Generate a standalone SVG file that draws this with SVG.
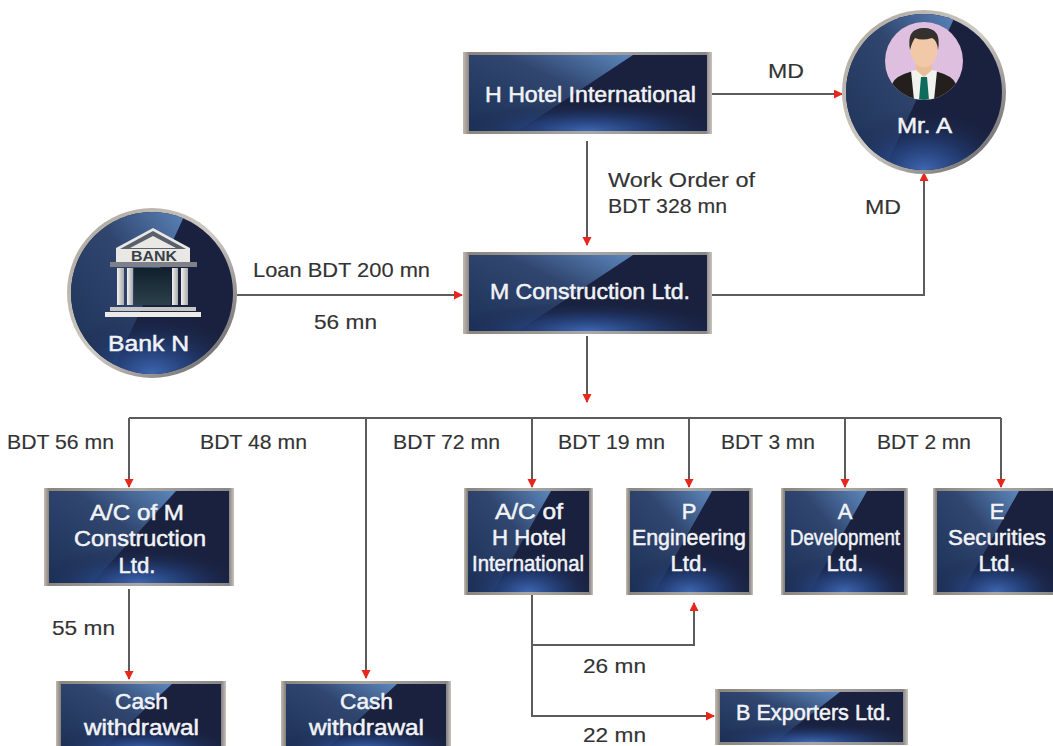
<svg xmlns="http://www.w3.org/2000/svg" width="1053" height="746" viewBox="0 0 1053 746">
<style>
text{font-family:"Liberation Sans",Arial,sans-serif}
.l{font-size:21px;fill:#333;stroke:#333;stroke-width:.15px}
.n{font-size:22px;fill:#f2f3f6;text-anchor:middle;stroke:#f2f3f6;stroke-width:.5px}
.frame{fill:url(#fr);filter:url(#soft)}
.base{fill:#19213f}
.glow{fill:url(#gl)}
.sheen{fill:url(#sh)}
.c{fill:none;stroke:#5c5c5c;stroke-width:2}
.ca{marker-end:url(#a)}
</style>
<defs>
<filter id="soft" x="-5%" y="-5%" width="110%" height="110%"><feGaussianBlur stdDeviation=".5"/></filter>
<linearGradient id="fr" x1="0" x2="1" y1="0" y2="0"><stop offset="0" stop-color="#c2bcb4"/><stop offset=".025" stop-color="#8b857e"/><stop offset=".5" stop-color="#aaa8a6"/><stop offset=".975" stop-color="#8a8887"/><stop offset="1" stop-color="#c8c4be"/></linearGradient>
<linearGradient id="sh" x1="0" x2="1" y1="1" y2="0"><stop offset="0" stop-color="#1c3157"/><stop offset=".6" stop-color="#30466f"/><stop offset="1" stop-color="#5c87bd"/></linearGradient>
<radialGradient id="gl" cx=".5" cy="1" r=".6" gradientTransform="translate(0 .35) scale(1 .65)"><stop offset="0" stop-color="#3f67b3" stop-opacity="1"/><stop offset=".45" stop-color="#25437f" stop-opacity=".75"/><stop offset="1" stop-color="#19213f" stop-opacity="0"/></radialGradient>
<linearGradient id="ring" x1="0" x2="1" y1="0" y2="1"><stop offset="0" stop-color="#a8a29a"/><stop offset=".5" stop-color="#cfcbc5"/><stop offset="1" stop-color="#57565a"/></linearGradient>
<linearGradient id="door" x1="0" x2="0" y1="0" y2="1"><stop offset="0" stop-color="#10202c"/><stop offset="1" stop-color="#2b414c"/></linearGradient>
<linearGradient id="col" x1="0" x2="1" y1="0" y2="0"><stop offset="0" stop-color="#f2f2f0"/><stop offset="1" stop-color="#a9a9a7"/></linearGradient>
<marker id="a" markerUnits="userSpaceOnUse" markerWidth="10" markerHeight="10" refX="8" refY="4.5" orient="auto"><path d="M0 0L9 4.500L0 9Z" fill="#e8261c"/></marker>
<clipPath id="ppl"><circle cx="924" cy="61" r="39"/></clipPath>
<clipPath id="cA"><circle cx="924" cy="92" r="78"/></clipPath>
<clipPath id="cB"><circle cx="152" cy="293" r="81"/></clipPath>
</defs>
<rect width="1053" height="746" fill="#fff"/>

<g id="connectors">
<path class="c ca" d="M712 94H842"/>
<path class="c ca" d="M587 141V245"/>
<path class="c ca" d="M237 295H462"/>
<path class="c ca" d="M712 295H924V173"/>
<path class="c ca" d="M587 336V402"/>
<path class="c" d="M129 418H1001"/>
<path class="c ca" d="M129 418V487"/>
<path class="c ca" d="M366 418V678"/>
<path class="c ca" d="M532 418V487"/>
<path class="c ca" d="M689 418V487"/>
<path class="c ca" d="M845 418V487"/>
<path class="c ca" d="M1001 418V487"/>
<path class="c ca" d="M129 589V679"/>
<path class="c ca" d="M532 595V645H694V603"/>
<path class="c ca" d="M532 645V716H714"/>
</g>

<g id="h-hotel">
<rect class="frame" x="463" y="52" width="249" height="82"/><rect class="base" x="469" y="55" width="238" height="76"/>
<path class="sheen" d="M469 55H633L518 131H469Z"/><rect class="glow" x="469" y="55" width="238" height="76"/>
<text class="n" x="590.500" y="102" textLength="211" lengthAdjust="spacingAndGlyphs">H Hotel International</text>
</g>
<g id="m-construction">
<rect class="frame" x="463" y="252" width="249" height="82"/><rect class="base" x="469" y="255" width="238" height="76"/>
<path class="sheen" d="M469 255H633L518 331H469Z"/><rect class="glow" x="469" y="255" width="238" height="76"/>
<text class="n" x="590" y="299" textLength="200" lengthAdjust="spacingAndGlyphs">M Construction Ltd.</text>
</g>
<g id="ac-m">
<rect class="frame" x="44" y="488" width="190" height="98"/><rect class="base" x="49" y="491" width="180" height="92"/>
<path class="sheen" d="M49 491H176L92 583H49Z"/><rect class="glow" x="49" y="491" width="180" height="92"/>
<text class="n" x="137" y="520" textLength="94" lengthAdjust="spacingAndGlyphs">A/C of M</text><text class="n" x="140" y="546" textLength="132" lengthAdjust="spacingAndGlyphs">Construction</text><text class="n" x="137" y="573" textLength="37" lengthAdjust="spacingAndGlyphs">Ltd.</text>
</g>
<g id="ac-h">
<rect class="frame" x="464" y="488" width="129" height="107"/><rect class="base" x="468" y="491" width="121" height="101"/>
<path class="sheen" d="M468 491H551L493 592H468Z"/><rect class="glow" x="468" y="491" width="121" height="101"/>
<text class="n" x="529" y="519" textLength="68" lengthAdjust="spacingAndGlyphs">A/C of</text><text class="n" x="529" y="545" textLength="74" lengthAdjust="spacingAndGlyphs">H Hotel</text><text class="n" x="528" y="571" textLength="112" lengthAdjust="spacingAndGlyphs">International</text>
</g>
<g id="p-eng">
<rect class="frame" x="626" y="488" width="127" height="107"/><rect class="base" x="630" y="491" width="119" height="101"/>
<path class="sheen" d="M630 491H712L655 592H630Z"/><rect class="glow" x="630" y="491" width="119" height="101"/>
<text class="n" x="689" y="519">P</text><text class="n" x="689" y="545" textLength="114" lengthAdjust="spacingAndGlyphs">Engineering</text><text class="n" x="689" y="571" textLength="37" lengthAdjust="spacingAndGlyphs">Ltd.</text>
</g>
<g id="a-dev">
<rect class="frame" x="781" y="488" width="127" height="107"/><rect class="base" x="785" y="491" width="119" height="101"/>
<path class="sheen" d="M785 491H867L810 592H785Z"/><rect class="glow" x="785" y="491" width="119" height="101"/>
<text class="n" x="845" y="519">A</text><text class="n" x="845" y="545" textLength="110" lengthAdjust="spacingAndGlyphs">Development</text><text class="n" x="845" y="571" textLength="37" lengthAdjust="spacingAndGlyphs">Ltd.</text>
</g>
<g id="e-sec">
<rect class="frame" x="933" y="488" width="127" height="107"/><rect class="base" x="937" y="491" width="119" height="101"/>
<path class="sheen" d="M937 491H1019L962 592H937Z"/><rect class="glow" x="937" y="491" width="119" height="101"/>
<text class="n" x="997" y="519">E</text><text class="n" x="997" y="545" textLength="98" lengthAdjust="spacingAndGlyphs">Securities</text><text class="n" x="997" y="571" textLength="37" lengthAdjust="spacingAndGlyphs">Ltd.</text>
</g>
<g id="cash-1">
<rect class="frame" x="56" y="681" width="170" height="70"/><rect class="base" x="61" y="684" width="160" height="66"/>
<path class="sheen" d="M61 684H172L101 750H61Z"/><rect class="glow" x="61" y="684" width="160" height="66"/>
<text class="n" x="141.500" y="709" textLength="53" lengthAdjust="spacingAndGlyphs">Cash</text><text class="n" x="141.500" y="735" textLength="115" lengthAdjust="spacingAndGlyphs">withdrawal</text>
</g>
<g id="cash-2">
<rect class="frame" x="281" y="681" width="170" height="70"/><rect class="base" x="286" y="684" width="160" height="66"/>
<path class="sheen" d="M286 684H397L326 750H286Z"/><rect class="glow" x="286" y="684" width="160" height="66"/>
<text class="n" x="366.500" y="709" textLength="53" lengthAdjust="spacingAndGlyphs">Cash</text><text class="n" x="366.500" y="735" textLength="115" lengthAdjust="spacingAndGlyphs">withdrawal</text>
</g>
<g id="b-exporters">
<rect class="frame" x="715" y="689" width="193" height="56"/><rect class="base" x="720" y="692" width="183" height="50"/>
<path class="sheen" d="M720 692H840L775 742H720Z"/><rect class="glow" x="720" y="692" width="183" height="50"/>
<text class="n" x="813.500" y="720" textLength="155" lengthAdjust="spacingAndGlyphs">B Exporters Ltd.</text>
</g>

<g id="mr-a">
<circle cx="924" cy="92" r="82" fill="url(#ring)" filter="url(#soft)"/><circle cx="924" cy="92" r="78" class="base"/>
<path class="sheen" clip-path="url(#cA)" d="M842 10H958L884 170H842Z"/>
<circle class="glow" cx="924" cy="92" r="78"/>
<circle cx="924" cy="61" r="39" fill="#dfbfdf"/>
<g clip-path="url(#ppl)">
<path d="M892 100V84Q895 76 910 72L924 68L938 72Q953 76 956 84V100Z" fill="#231f1d"/>
<path d="M911 71L924 68L937 71L934 100H914Z" fill="#f1f1ee"/>
<path d="M921 77H927L929 100H919Z" fill="#0f6b5c"/>
<path d="M916 60H932V70L924 77L916 70Z" fill="#e8bd98"/>
<ellipse cx="924" cy="49" rx="13.500" ry="18.500" fill="#f2c9a8"/>
<path d="M910 50Q906 28 924 28Q942 28 938 50Q937 40 932 38Q922 41 915 38Q912 42 910 50Z" fill="#33302e"/>
</g>
<text class="n" x="924.500" y="133" textLength="55" lengthAdjust="spacingAndGlyphs">Mr. A</text>
</g>

<g id="bank-n">
<circle cx="152" cy="293" r="85" fill="url(#ring)" filter="url(#soft)"/><circle cx="152" cy="293" r="81" class="base"/>
<path class="sheen" clip-path="url(#cB)" d="M67 208H188L112 372H67Z"/>
<circle class="glow" cx="152" cy="293" r="81"/>
<path d="M153 228L116 248V263H190V248Z" fill="#e9e8e4"/>
<path d="M153 231L120 249H186Z" fill="#59606b"/>
<path d="M153 236L130 248H176Z" fill="#e9e8e4"/>
<text x="154" y="261" text-anchor="middle" textLength="46" lengthAdjust="spacingAndGlyphs" style="font-size:14px;font-weight:700;fill:#3a4048">BANK</text>
<rect x="110" y="262" width="87" height="5" fill="#7e8288"/>
<rect x="117" y="268" width="7" height="37" fill="url(#col)"/><rect x="127" y="268" width="6" height="37" fill="url(#col)"/>
<rect x="172" y="268" width="6" height="37" fill="url(#col)"/><rect x="181" y="268" width="7" height="37" fill="url(#col)"/>
<rect x="134" y="268" width="37" height="37" fill="url(#door)"/>
<rect x="110" y="307" width="86" height="4" fill="#c6c6c4"/>
<rect x="105" y="312" width="96" height="5" fill="#ecebe8"/>
<text class="n" x="148.500" y="351" textLength="81" lengthAdjust="spacingAndGlyphs">Bank N</text>
</g>

<g id="labels">
<text class="l" x="768" y="78" textLength="36" lengthAdjust="spacingAndGlyphs">MD</text>
<text class="l" x="608" y="187" textLength="147" lengthAdjust="spacingAndGlyphs">Work Order of</text>
<text class="l" x="608" y="213" textLength="119" lengthAdjust="spacingAndGlyphs">BDT 328 mn</text>
<text class="l" x="865" y="214" textLength="36" lengthAdjust="spacingAndGlyphs">MD</text>
<text class="l" x="253" y="277" textLength="177" lengthAdjust="spacingAndGlyphs">Loan BDT 200 mn</text>
<text class="l" x="314" y="329" textLength="63" lengthAdjust="spacingAndGlyphs">56 mn</text>
<text class="l" x="7" y="449" textLength="107" lengthAdjust="spacingAndGlyphs">BDT 56 mn</text>
<text class="l" x="200" y="449" textLength="107" lengthAdjust="spacingAndGlyphs">BDT 48 mn</text>
<text class="l" x="393" y="449" textLength="107" lengthAdjust="spacingAndGlyphs">BDT 72 mn</text>
<text class="l" x="558" y="449" textLength="107" lengthAdjust="spacingAndGlyphs">BDT 19 mn</text>
<text class="l" x="721" y="449" textLength="94" lengthAdjust="spacingAndGlyphs">BDT 3 mn</text>
<text class="l" x="877" y="449" textLength="94" lengthAdjust="spacingAndGlyphs">BDT 2 mn</text>
<text class="l" x="52" y="635" textLength="63" lengthAdjust="spacingAndGlyphs">55 mn</text>
<text class="l" x="583" y="673" textLength="63" lengthAdjust="spacingAndGlyphs">26 mn</text>
<text class="l" x="583" y="741.500" textLength="63" lengthAdjust="spacingAndGlyphs" style="font-size:20px">22 mn</text>
</g>
</svg>
